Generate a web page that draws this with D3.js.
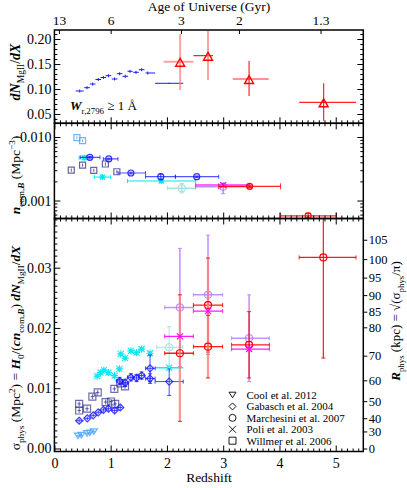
<!DOCTYPE html>
<html><head><meta charset="utf-8">
<script src="https://cdn.jsdelivr.net/npm/d3@7"></script>
<style>body{margin:0;background:#fff}svg{display:block}
svg text{font-family:'Liberation Serif','DejaVu Serif','Times New Roman',serif !important}</style>
</head><body><svg id="c" width="407" height="488"></svg>
<script>
// ---------------- DATA ----------------
// top axis: age of universe
const ageLabels = ["13","6","3","2","1.3"];
const ageZ = [0.08, 1.0, 2.25, 3.28, 4.73];
const xTicksMajor = [0,1,2,3,4,5];
const p1Ticks = [0.05,0.10,0.15,0.20];
const p2Ticks = [0.001,0.010];
const p3Ticks = [0.00,0.01,0.02,0.03];
const rTicks = [0,30,40,50,60,70,80,85,90,95,100,105];

// Panel 1: dN/dX
const p1BlueZ   = [0.45,0.58,0.68,0.78,0.87,0.96,1.07,1.16,1.26,1.345,1.45,1.55,1.66];
const p1BlueZlo = [0.38,0.53,0.63,0.73,0.82,0.91,1.02,1.11,1.21,1.30,1.40,1.50,1.62];
const p1BlueZhi = [0.52,0.63,0.73,0.83,0.92,1.01,1.12,1.21,1.31,1.39,1.50,1.60,1.79];
const p1BlueV   = [0.096,0.1026,0.110,0.119,0.123,0.1266,0.120,0.1306,0.1254,0.1354,0.1334,0.1386,0.132];
const p1BlueE   = [0.003,0.003,0.003,0.003,0.003,0.003,0.003,0.003,0.003,0.003,0.003,0.003,0.003];
const p1Blue2Z = [2.04], p1Blue2Zlo = [1.79], p1Blue2Zhi = [2.29], p1Blue2V = [0.1114];
const p1RedZ   = [2.235,2.73,3.46,4.785];
const p1RedZlo = [1.94,2.47,3.17,4.35];
const p1RedZhi = [2.47,2.82,3.81,5.36];
const p1RedV   = [0.1546,0.1666,0.120,0.0734];
const p1RedVlo = [0.098,0.118,0.086,0.0366];
const p1RedVhi = [0.210,0.216,0.156,0.1114];

// Panel 2: comoving number density
const p2LbZ = [0.40,0.50], p2LbN = [0.00975,0.00875];
const p2BlueZ   = [0.63,0.966,1.36,1.89,2.53];
const p2BlueZlo = [0.46,0.87,1.13,1.62,2.15];
const p2BlueZhi = [0.81,1.13,1.62,2.15,2.92];
const p2BlueN   = [0.00479,0.00451,0.00271,0.00237,0.00237];
const p2BlueNlo = [0.00465,0.00438,0.00262,0.00212,0.00230];
const p2BlueNhi = [0.00493,0.00464,0.00280,0.00262,0.00244];
const p2CyanZ   = [0.53,0.853,1.90];
const p2CyanZlo = [0.44,0.71,1.30];
const p2CyanZhi = [0.63,1.00,2.51];
const p2CyanN   = [0.00472,0.00234,0.00203];
const p2WilZ = [0.30,0.50,0.70,0.906,1.11];
const p2WilN = [0.00302,0.00362,0.00299,0.00376,0.00284];
const p2PcZ = [2.265], p2PcZlo = [2.01], p2PcZhi = [2.51], p2PcN = [0.00156], p2PcNlo = [0.00132], p2PcNhi = [0.00185];
const p2VioZ = [3.0], p2VioZlo = [2.51], p2VioZhi = [3.47], p2VioN = [0.00164], p2VioNlo = [0.00128], p2VioNhi = [0.00188];
const p2MagZ = [3.0], p2MagZlo = [2.51], p2MagZhi = [3.47], p2MagN = [0.00175];
const p2RedZ   = [3.47,4.51];
const p2RedZlo = [2.92,4.02];
const p2RedZhi = [4.02,5.01];
const p2RedN   = [0.00167,0.000575];
const p2RedNlo = [0.00160,0.00053];
const p2RedNhi = [0.00175,0.00063];

// Panel 3: cross-section
const p3CoolZ = [0.42,0.48,0.58,0.63,0.70];
const p3CoolS = [0.0021,0.0022,0.0025,0.0026,0.0028];
const p3GabZ   = [0.44,0.585,0.69,0.78,0.87,0.96,1.07,1.17];
const p3GabZlo = [0.38,0.53,0.63,0.73,0.82,0.91,1.02,1.11];
const p3GabZhi = [0.52,0.63,0.73,0.83,0.92,1.01,1.12,1.21];
const p3GabS   = [0.0046,0.0050,0.0055,0.0060,0.0064,0.0066,0.0063,0.0068];
const p3GabE   = [0.0003,0.0003,0.0003,0.0003,0.0004,0.0004,0.0004,0.0004];
const p3Gab2Z   = [1.16,1.26,1.36,1.46,1.55,1.70,1.70,2.04];
const p3Gab2Zlo = [1.11,1.21,1.30,1.40,1.50,1.62,1.62,1.79];
const p3Gab2Zhi = [1.21,1.31,1.39,1.50,1.60,1.79,1.79,2.29];
const p3Gab2S   = [0.0112,0.0109,0.0118,0.0117,0.0121,0.0133,0.0116,0.0111];
const p3Gab2E   = [0.0006,0.0006,0.0006,0.0006,0.0006,0.0022,0.0008,0.0023];
const p3WilZ = [0.44,0.44,0.58,0.675,0.77,0.91,1.006,1.08,1.065,1.17,1.255];
const p3WilS = [0.0074,0.0063,0.0066,0.0086,0.0093,0.0077,0.0078,0.0074,0.0099,0.0108,0.0103];
const p3CyanZ = [0.76,0.82,0.88,0.96,1.07,1.155,1.18,1.256,1.36,1.46,1.55,1.70];
const p3CyanS = [0.0120,0.0126,0.0130,0.0126,0.0121,0.0132,0.0157,0.0150,0.0162,0.0159,0.0165,0.0158];
const p3Cyan2Z = [2.04], p3Cyan2Zlo = [1.79], p3Cyan2Zhi = [2.29], p3Cyan2S = [0.0134];
const p3PcZ = [2.04], p3PcZlo = [1.82], p3PcZhi = [2.28], p3PcS = [0.0168], p3PcSlo = [0.0134], p3PcShi = [0.0202];
const p3VioZ   = [2.23,2.73,3.46];
const p3VioZlo = [1.96,2.47,3.15];
const p3VioZhi = [2.47,2.99,3.82];
const p3VioS   = [0.0234,0.0255,0.0183];
const p3VioSlo = [0.0136,0.0156,0.0111];
const p3VioShi = [0.0332,0.0354,0.0255];
const p3MagZ   = [2.23,2.73,3.46];
const p3MagS   = [0.0186,0.0228,0.0165];
const p3RedZ   = [2.23,2.73,2.73,3.46,4.78];
const p3RedZlo = [1.96,2.47,2.47,3.15,4.35];
const p3RedZhi = [2.47,2.99,2.99,3.82,5.36];
const p3RedS   = [0.0158,0.0238,0.0169,0.0172,0.0317];
const p3RedSlo = [0.0045,0.0160,0.0117,0.0117,0.0150];
const p3RedShi = [0.0255,0.0316,0.0221,0.0227,0.0484];

const legendNames = ["Cool et al. 2012","Gabasch et al. 2004","Marchesini et al. 2007","Poli et al. 2003","Willmer et al. 2006"];
const legendSyms = ["triDown","diamond","circle","x","square"];

// ---------------- LAYOUT ----------------
const FONT = "'Liberation Serif','DejaVu Serif',serif";
const svg = d3.select("#c").attr("font-family", FONT);
const X0 = 54.4, X1 = 363.3;
const P1 = [30,123.3], P2 = [123.3,218.5], P3 = [218.5,451.5];
const x  = d3.scaleLinear().domain([0,5.49]).range([X0,X1]);
const y1 = d3.scaleLinear().domain([0.0314,0.218]).range([P1[1],P1[0]]);
const y2 = d3.scaleLog().domain([0.000521,0.01644]).range([P2[1],P2[0]]);
const y3 = d3.scaleLinear().domain([-0.0005,0.03816]).range([P3[1],P3[0]]);
const rTop = 1000*Math.sqrt(0.03816/Math.PI);
const rS = d3.scalePow().exponent(2).domain([0,rTop]).range([y3(0), y3(Math.PI*Math.pow(rTop/1000,2))]);

const C = {blue:"#1a1aff", lb:"#4aa3f5", cyan:"#00e8f0", slate:"#3c3c90", vio:"#b070f5",
           mag:"#ff00ff", red:"#ff0000", pred:"#ff7a7a", pc:"#a8e0e4"};

// clip paths
const defs = svg.append("defs");
[P1,P2,P3].forEach((p,i)=>{
  defs.append("clipPath").attr("id","cp"+i).append("rect")
    .attr("x",X0).attr("y",p[0]).attr("width",X1-X0).attr("height",p[1]-p[0]);
});

function styleAxis(g,size){
  g.attr("font-family",FONT).attr("font-size",size);
  g.select(".domain").remove();
  g.selectAll(".tick line").attr("stroke","#000").attr("stroke-width",1);
  g.selectAll(".tick text").attr("fill","#000");
}
const minorX = d3.range(0,5.5,0.1).filter(v=>Math.abs(v-Math.round(v))>0.01);

function xTicks(p, top, bottom, labels){
  if (bottom){
    const g=svg.append("g").attr("transform",`translate(0,${p[1]})`)
      .call(d3.axisBottom(x).tickValues(xTicksMajor).tickSize(-6).tickPadding(6.5).tickFormat(labels?d3.format("d"):""));
    styleAxis(g,14);
    const m=svg.append("g").attr("transform",`translate(0,${p[1]})`)
      .call(d3.axisBottom(x).tickValues(minorX).tickSize(-3).tickFormat(""));
    styleAxis(m,14);
  }
  if (top){
    const g=svg.append("g").attr("transform",`translate(0,${p[0]})`)
      .call(d3.axisTop(x).tickValues(xTicksMajor).tickSize(-6).tickFormat(""));
    styleAxis(g,14);
    const m=svg.append("g").attr("transform",`translate(0,${p[0]})`)
      .call(d3.axisTop(x).tickValues(minorX).tickSize(-3).tickFormat(""));
    styleAxis(m,14);
  }
}
function yTicks(scale, major, minor, fmt, right){
  const g=svg.append("g").attr("transform",`translate(${X0},0)`)
    .call(d3.axisLeft(scale).tickValues(major).tickSize(-6).tickPadding(3).tickFormat(fmt));
  styleAxis(g,14);
  const m=svg.append("g").attr("transform",`translate(${X0},0)`)
    .call(d3.axisLeft(scale).tickValues(minor).tickSize(-3).tickFormat(""));
  styleAxis(m,14);
  if (right){
    const g2=svg.append("g").attr("transform",`translate(${X1},0)`)
      .call(d3.axisRight(scale).tickValues(major).tickSize(-6).tickFormat(""));
    styleAxis(g2,14);
    const m2=svg.append("g").attr("transform",`translate(${X1},0)`)
      .call(d3.axisRight(scale).tickValues(minor).tickSize(-3).tickFormat(""));
    styleAxis(m2,14);
  }
}

// ---------- marks helpers ----------
function line(g,x1,y1_,x2,y2_,col,w,op){
  g.append("line").attr("x1",x1).attr("y1",y1_).attr("x2",x2).attr("y2",y2_)
    .attr("stroke",col).attr("stroke-width",w).attr("stroke-opacity",op);
}
function sym(g,type,cx,cy,col,s,w,op){
  const h=s/2; let d;
  if (type==="circle"){ g.append("circle").attr("cx",cx).attr("cy",cy).attr("r",h)
      .attr("fill","none").attr("stroke",col).attr("stroke-width",w).attr("stroke-opacity",op); return; }
  if (type==="square") d=`M${cx-h},${cy-h}H${cx+h}V${cy+h}H${cx-h}Z`;
  if (type==="diamond") d=`M${cx},${cy-h}L${cx+h},${cy}L${cx},${cy+h}L${cx-h},${cy}Z`;
  if (type==="triUp") d=`M${cx},${cy-h*0.75}L${cx+h},${cy+h}L${cx-h},${cy+h}Z`;
  if (type==="triDown") d=`M${cx},${cy+h*0.8}L${cx+h},${cy-h*0.8}L${cx-h},${cy-h*0.8}Z`;
  if (type==="x") d=`M${cx-h},${cy-h}L${cx+h},${cy+h}M${cx-h},${cy+h}L${cx+h},${cy-h}`;
  if (type==="star") d=`M${cx-h},${cy-h}L${cx+h},${cy+h}M${cx-h},${cy+h}L${cx+h},${cy-h}M${cx-h*1.2},${cy}H${cx+h*1.2}M${cx},${cy-h*1.2}V${cy+h*1.2}`;
  g.append("path").attr("d",d).attr("fill","none").attr("stroke",col)
    .attr("stroke-width",w).attr("stroke-opacity",op);
}
// series drawer
function series(g, ys, o){
  const n=o.z.length;
  for(let i=0;i<n;i++){
    const cx=x(o.z[i]), cy=ys(o.v[i]);
    const ec=o.ecol||o.col, ew=o.ew||1, eo=o.eo==null?0.9:o.eo, cap=o.cap==null?2:o.cap;
    if (o.zlo){ const a=x(o.zlo[i]), b=x(o.zhi[i]);
      line(g,a,cy,b,cy,o.xcol?o.xcol[i]||ec:ec,o.xw?o.xw[i]:ew,o.xo?o.xo[i]:eo);
      if(cap){ line(g,a,cy-cap,a,cy+cap,ec,1,eo); line(g,b,cy-cap,b,cy+cap,ec,1,eo);} }
    let lo=null,hi=null;
    if (o.vlo){ lo=o.vlo[i]; hi=o.vhi[i]; } else if (o.e){ lo=o.v[i]-o.e[i]; hi=o.v[i]+o.e[i]; }
    if (lo!=null){ const a=ys(lo), b=ys(hi);
      line(g,cx,a,cx,b,o.ycol?o.ycol[i]||ec:ec,o.yw?o.yw[i]:ew,o.yo?o.yo[i]:eo);
      if(cap){ line(g,cx-cap,a,cx+cap,a,ec,1,eo); line(g,cx-cap,b,cx+cap,b,ec,1,eo);} }
    if (o.sym) sym(g,o.sym,cx,cy,o.col,o.size||7,o.sw||1.2,o.op==null?0.9:o.op);
  }
}

// ---------- Panel 1 ----------
const g1 = svg.append("g").attr("clip-path","url(#cp0)");
series(g1,y1,{z:p1BlueZ,zlo:p1BlueZlo,zhi:p1BlueZhi,v:p1BlueV,e:p1BlueE,col:C.blue,cap:0,eo:1});
series(g1,y1,{z:p1Blue2Z,zlo:p1Blue2Zlo,zhi:p1Blue2Zhi,v:p1Blue2V,e:[0.0012],col:C.blue,cap:0,eo:1});
series(g1,y1,{z:p1RedZ,zlo:p1RedZlo,zhi:p1RedZhi,v:p1RedV,vlo:p1RedVlo,vhi:p1RedVhi,col:C.red,cap:0,
  ecol:C.red, ew:1, eo:0.85,
  xcol:[C.pred,C.red,C.red,C.red], xw:[2,1.2,1.2,1.2], xo:[0.7,0.85,0.85,0.85],
  ycol:[C.pred,C.pred,C.red,C.red], yw:[2,2,1.2,1.2], yo:[0.7,0.7,0.85,0.85],
  sym:"triUp",size:9,sw:1.4,op:1});

// ---------- Panel 2 ----------
const g2 = svg.append("g").attr("clip-path","url(#cp1)");
series(g2,y2,{z:p2WilZ,v:p2WilN,e:p2WilN.map(v=>v*0.06),col:C.slate,cap:0,sym:"square",size:6,op:0.8,eo:0.8});
series(g2,y2,{z:p2LbZ,v:p2LbN,e:p2LbN.map(v=>v*0.05),col:C.lb,cap:0,sym:"square",size:6,op:0.8,eo:0.8});
series(g2,y2,{z:p2PcZ,zlo:p2PcZlo,zhi:p2PcZhi,v:p2PcN,vlo:p2PcNlo,vhi:p2PcNhi,col:C.pc,sym:"circle",size:7,op:1,eo:1,ew:1.5});
series(g2,y2,{z:p2CyanZ,zlo:p2CyanZlo,zhi:p2CyanZhi,v:p2CyanN,e:p2CyanN.map(v=>v*0.05),col:C.cyan,sym:"star",size:5,op:1,eo:1});
series(g2,y2,{z:p2BlueZ,zlo:p2BlueZlo,zhi:p2BlueZhi,v:p2BlueN,vlo:p2BlueNlo,vhi:p2BlueNhi,col:C.blue,sym:"circle",size:6,op:0.9,eo:0.75,ew:1.2});
series(g2,y2,{z:p2VioZ,zlo:p2VioZlo,zhi:p2VioZhi,v:p2VioN,vlo:p2VioNlo,vhi:p2VioNhi,col:C.vio,sym:"circle",size:7,op:0.8,eo:0.8,ew:1.5});
series(g2,y2,{z:p2MagZ,zlo:p2MagZlo,zhi:p2MagZhi,v:p2MagN,e:[0.0001],col:C.mag,sym:"x",size:6,op:1,eo:0.8,ew:1.5});
series(g2,y2,{z:p2RedZ,zlo:p2RedZlo,zhi:p2RedZhi,v:p2RedN,vlo:p2RedNlo,vhi:p2RedNhi,col:C.red,sym:"circle",size:6,op:1,eo:0.85,ew:1.2,cap:3});

// ---------- Panel 3 ----------
const g3 = svg.append("g").attr("clip-path","url(#cp2)");
series(g3,y3,{z:p3CoolZ,v:p3CoolS,e:p3CoolZ.map(()=>0.0002),zlo:p3CoolZ.map(v=>v-0.03),zhi:p3CoolZ.map(v=>v+0.03),col:C.lb,cap:0,sym:"triDown",size:7,op:0.8,eo:0.8});
series(g3,y3,{z:p3WilZ,v:p3WilS,e:p3WilS.map(()=>0.0004),zlo:p3WilZ.map(v=>v-0.03),zhi:p3WilZ.map(v=>v+0.03),col:C.slate,cap:0,sym:"square",size:7,op:0.75,eo:0.8});
series(g3,y3,{z:p3CyanZ,v:p3CyanS,e:p3CyanS.map(()=>0.0003),zlo:p3CyanZ.map(v=>v-0.04),zhi:p3CyanZ.map(v=>v+0.04),col:C.cyan,cap:0,sym:"star",size:6,op:0.9,eo:0.9});
series(g3,y3,{z:p3Cyan2Z,zlo:p3Cyan2Zlo,zhi:p3Cyan2Zhi,v:p3Cyan2S,e:[0.0003],col:C.cyan,cap:0,sym:"star",size:6,op:0.9,eo:0.9,ew:1.5});
series(g3,y3,{z:p3GabZ,zlo:p3GabZlo,zhi:p3GabZhi,v:p3GabS,e:p3GabE,col:C.blue,cap:0,sym:"diamond",size:7,op:0.85,eo:0.8});
series(g3,y3,{z:p3Gab2Z,zlo:p3Gab2Zlo,zhi:p3Gab2Zhi,v:p3Gab2S,e:p3Gab2E,col:C.blue,cap:2,sym:"diamond",size:7,op:0.85,eo:0.8});
series(g3,y3,{z:p3PcZ,zlo:p3PcZlo,zhi:p3PcZhi,v:p3PcS,vlo:p3PcSlo,vhi:p3PcShi,col:C.pc,cap:2,sym:"circle",size:7,op:1,eo:1});
series(g3,y3,{z:p3VioZ,zlo:p3VioZlo,zhi:p3VioZhi,v:p3VioS,vlo:p3VioSlo,vhi:p3VioShi,col:C.vio,cap:2,sym:"circle",size:7,op:0.75,eo:0.75,ew:1.6});
series(g3,y3,{z:p3RedZ,zlo:p3RedZlo,zhi:p3RedZhi,v:p3RedS,vlo:p3RedSlo,vhi:p3RedShi,col:C.red,ecol:C.red,cap:2,
  ycol:[C.pred,C.pred,C.pred,C.red,C.red], yw:[2.2,2.2,2.2,1.2,1.2], yo:[0.8,0.8,0.8,0.9,0.9],
  sym:"circle",size:7,op:1,eo:0.9,ew:1.3});
series(g3,y3,{z:p3MagZ,zlo:p3VioZlo,zhi:p3VioZhi,v:p3MagS,col:C.mag,cap:2,sym:"x",size:6,op:1,eo:0.9,ew:1.3});

// ---------- Frames & ticks ----------
[P1,P2,P3].forEach(p=>{
  svg.append("rect").attr("x",X0).attr("y",p[0]).attr("width",X1-X0).attr("height",p[1]-p[0])
    .attr("fill","none").attr("stroke","#000").attr("stroke-width",1.5);
});
xTicks(P1,false,true,false);
xTicks(P2,true,true,false);
xTicks(P3,true,true,true);
// top age axis
{
  const g=svg.append("g").attr("transform",`translate(0,${P1[0]})`)
    .call(d3.axisTop(x).tickValues(ageZ).tickSize(-4).tickPadding(5).tickFormat((d,i)=>ageLabels[i]));
  styleAxis(g,13.5);
}
yTicks(y1,p1Ticks,d3.range(0.04,0.215,0.01).filter(v=>!p1Ticks.some(t=>Math.abs(t-v)<1e-6)),d3.format(".2f"),true);
{
  const mn=[];
  [0.0001,0.001,0.01].forEach(dec=>{for(let k=2;k<=9;k++){const v=k*dec; if(v>0.000521&&v<0.01644) mn.push(v);} });
  yTicks(y2,p2Ticks,mn,d3.format(".3f"),true);
}
yTicks(y3,p3Ticks,d3.range(0,0.0381,0.001).filter(v=>!p3Ticks.some(t=>Math.abs(t-v)<1e-6)),d3.format(".2f"),false);
{
  const g=svg.append("g").attr("transform",`translate(${X1},0)`)
    .call(d3.axisRight(rS).tickValues(rTicks).tickSize(4).tickPadding(1.5).tickFormat(d3.format("d")));
  styleAxis(g,12.5);
}

// ---------- text ----------
function rich(parent, parts, size){
  const t=parent.append("text").attr("font-size",size).attr("fill","#000");
  let shift=0;
  parts.forEach(p=>{
    const ts=t.append("tspan").text(p.t);
    const target = p.sub? size*0.28 : p.sup? -size*0.38 : 0;
    ts.attr("dy", target-shift); shift=target;
    if (p.sub||p.sup) ts.attr("font-size", size*0.68);
    if (p.bi) ts.attr("font-weight","bold").attr("font-style","italic");
  });
  return t;
}
svg.append("text").attr("x",209).attr("y",10.5).attr("text-anchor","middle").attr("font-size",13.5).text("Age of Universe (Gyr)");
svg.append("text").attr("x",209).attr("y",482).attr("text-anchor","middle").attr("font-size",13.5).text("Redshift");

rich(svg.append("g").attr("transform","translate(70,110)"),
  [{t:"W",bi:true},{t:"r,2796",sub:true},{t:" ≥  1 Å"}],13).attr("font-size",13);

rich(svg.append("g").attr("transform","translate(20,72) rotate(-90)"),
  [{t:"dN",bi:true},{t:"MgII",sub:true},{t:"/"},{t:"dX",bi:true}],14).attr("text-anchor","middle");
rich(svg.append("g").attr("transform","translate(20,175) rotate(-90)"),
  [{t:"n",bi:true},{t:"com,",sub:true},{t:"B",sub:true,bi:true},{t:" (Mpc"},{t:"−3",sup:true},{t:")"}],13.5).attr("text-anchor","middle");
rich(svg.append("g").attr("transform","translate(20,348) rotate(-90)"),
  [{t:"σ"},{t:"phys",sub:true},{t:" (Mpc"},{t:"2",sup:true},{t:") = "},{t:"H",bi:true},{t:"0",sub:true},
   {t:"/("},{t:"cn",bi:true},{t:"com,",sub:true},{t:"B",sub:true,bi:true},{t:") "},{t:"dN",bi:true},{t:"MgII",sub:true},{t:"/"},{t:"dX",bi:true}],13.5)
  .attr("text-anchor","middle");
rich(svg.append("g").attr("transform","translate(400,321) rotate(-90)"),
  [{t:"R",bi:true},{t:"phys",sub:true},{t:" (kpc) = √(σ"},{t:"phys",sub:true},{t:"/π)"}],13)
  .attr("text-anchor","middle");

// legend
const legY = d3.scalePoint().domain(legendNames).range([395,440.7]);
legendNames.forEach((nm,i)=>{
  sym(svg,legendSyms[i],232.5,legY(nm),"#000",7,0.9,1);
  svg.append("text").attr("x",246.5).attr("y",legY(nm)).attr("dy","0.35em").attr("font-size",11).text(nm);
});
</script></body></html>
